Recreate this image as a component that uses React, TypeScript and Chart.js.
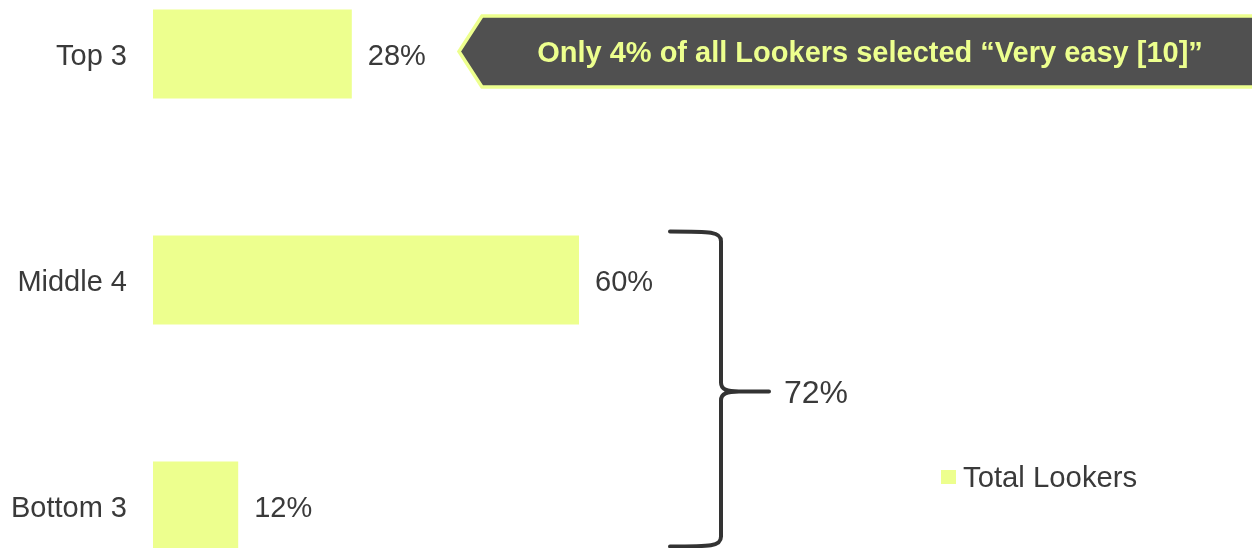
import React, { useEffect, useRef } from "react";
import { Chart, registerables } from "chart.js";

Chart.register(...registerables);

const categories = ["Top 3", "Middle 4", "Bottom 3"];
const totalLookers = [28, 60, 12];
const seriesName = "Total Lookers";
const bracketLabel = "72%";
const calloutText = "Only 4% of all Lookers selected \u201cVery easy [10]\u201d";

const BAR = "#EDFF8E";
const TEXT = "#3a3a3a";
const FONT = "'Liberation Sans', Arial, sans-serif";
const OFFSET = 59; // canvas shifted up by this many px

const annotations = {
  id: "annotations",
  afterDatasetsDraw(chart: any) {
    const ctx = chart.ctx;
    const meta = chart.getDatasetMeta(0);
    const xs = chart.scales.x;
    ctx.save();
    // value labels
    ctx.font = `29px ${FONT}`;
    ctx.fillStyle = TEXT;
    ctx.textAlign = "left";
    ctx.textBaseline = "middle";
    meta.data.forEach((bar: any, i: number) => {
      ctx.fillText(totalLookers[i] + "%", bar.x + 16, bar.y + 3);
    });

    // brace spanning middle + bottom
    const mid = meta.data[1];
    const bot = meta.data[2];
    const top = mid.y - mid.height / 2 - 4;
    const bottom = bot.y + bot.height / 2 - 4;
    const vx = xs.getPixelForValue(80);
    const left = vx - 51;
    const cy = top + (bottom - top) * 0.508;
    const tipX = vx + 48;
    ctx.strokeStyle = "#333";
    ctx.lineWidth = 4;
    ctx.lineCap = "round";
    ctx.lineJoin = "round";
    ctx.beginPath();
    ctx.moveTo(left, top);
    ctx.bezierCurveTo(vx - 10, top, vx, top, vx, top + 10);
    ctx.lineTo(vx, cy - 9);
    ctx.bezierCurveTo(vx, cy - 2, vx + 6, cy, vx + 18, cy);
    ctx.lineTo(tipX, cy);
    ctx.moveTo(vx + 18, cy);
    ctx.bezierCurveTo(vx + 6, cy, vx, cy + 2, vx, cy + 9);
    ctx.lineTo(vx, bottom - 10);
    ctx.bezierCurveTo(vx, bottom, vx - 10, bottom, left, bottom);
    ctx.stroke();
    ctx.font = `32px ${FONT}`;
    ctx.fillStyle = TEXT;
    ctx.textBaseline = "middle";
    ctx.fillText(bracketLabel, tipX + 15, cy + 3);

    // callout
    const t = meta.data[0];
    const ccy = t.y - 2.5;
    const h = 71;
    const tip = 459;
    const x0 = 482;
    ctx.beginPath();
    ctx.moveTo(tip, ccy);
    ctx.lineTo(x0, ccy - h / 2);
    ctx.lineTo(1270, ccy - h / 2);
    ctx.lineTo(1270, ccy + h / 2);
    ctx.lineTo(x0, ccy + h / 2);
    ctx.closePath();
    ctx.fillStyle = "#505050";
    ctx.fill();
    ctx.strokeStyle = BAR;
    ctx.lineWidth = 3.5;
    ctx.lineJoin = "miter";
    ctx.stroke();
    ctx.font = `bold 29px ${FONT}`;
    ctx.fillStyle = BAR;
    ctx.textAlign = "center";
    ctx.fillText(calloutText, 870, ccy + 2);

    // legend
    const ly = 477 + OFFSET;
    ctx.fillStyle = BAR;
    ctx.fillRect(941, ly - 7, 15, 14);
    ctx.fillStyle = TEXT;
    ctx.textAlign = "left";
    ctx.font = `29.3px ${FONT}`;
    ctx.fillText(seriesName, 963, ly + 2);
    ctx.restore();
  },
};

export default function App() {
  const ref = useRef<HTMLCanvasElement>(null);
  useEffect(() => {
    const chart = new Chart(ref.current!, {
      type: "bar",
      data: {
        labels: categories,
        datasets: [
          {
            label: seriesName,
            data: totalLookers,
            backgroundColor: BAR,
            borderWidth: 0,
            barPercentage: 89 / 226,
            categoryPercentage: 1,
          },
        ],
      },
      options: {
        indexAxis: "y",
        animation: false,
        responsive: false,
        layout: { padding: 0, autoPadding: false },
        plugins: {
          legend: { display: false },
          tooltip: { enabled: false },
        },
        scales: {
          x: { display: false, min: 0, max: 1099 / 7.1 },
          y: {
            grid: { display: false, drawTicks: false },
            border: { display: false },
            ticks: {
              color: TEXT,
              font: { family: FONT, size: 29 },
              padding: 26,
              labelOffset: 3,
            },
            afterFit(scale: any) {
              scale.width = 153;
              scale.paddingTop = 0;
              scale.paddingBottom = 0;
            },
          },
        },
      },
      plugins: [annotations],
    });
    return () => chart.destroy();
  }, []);
  return (
    <div
      style={{
        position: "absolute",
        left: 0,
        top: 0,
        width: 1252,
        height: 548,
        overflow: "hidden",
        background: "#fff",
      }}
    >
      <canvas
        ref={ref}
        width={1252}
        height={678}
        style={{ position: "absolute", left: 0, top: -OFFSET, width: 1252, height: 678 }}
      />
    </div>
  );
}
